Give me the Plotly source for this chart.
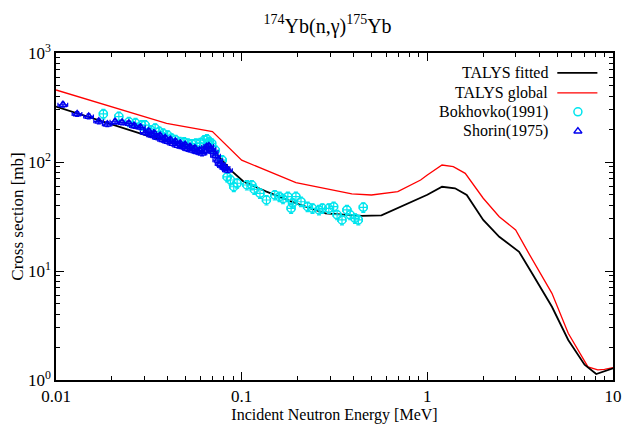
import plotly.graph_objects as go

# --- TALYS calculations (MeV, mb) ---
talys_global_e = [0.01, 0.0178, 0.0394, 0.0696, 0.1, 0.196, 0.283, 0.392, 0.5, 0.693,
                  0.92, 1.0, 1.2, 1.38, 1.6, 2.0, 2.44, 2.99, 3.52, 4.69, 5.74, 7.33, 8.28,
                  9.0, 10.0]
talys_global_xs = [458, 341, 226, 190, 104, 64.6, 57.0, 50.9, 49.8, 53.4,
                   68.4, 76, 93.8, 90.6, 78.7, 46.5, 31.5, 23.8, 14.5, 6.24, 2.68, 1.32, 1.24,
                   1.25, 1.30]

talys_fitted_e = [0.01, 0.02, 0.0315, 0.0419, 0.055, 0.07, 0.087, 0.1025, 0.136, 0.196, 0.283,
                  0.443, 0.566, 0.818, 1.0, 1.2, 1.41, 1.63, 2.0, 2.44, 2.88, 3.12, 3.67, 4.69,
                  5.74, 7.03, 8.12, 10.0]
talys_fitted_xs = [322, 222, 173, 153, 140, 131, 84.6, 65.9, 53.5, 41.8, 33.8,
                   32.0, 32.4, 43.2, 50.0, 59.3, 57.4, 49.8, 29.4, 20.6, 16.7, 15.0, 9.5, 4.70,
                   2.33, 1.38, 1.135, 1.28]

# --- Experimental data: Bokhovko (1991) ---
bokhovko_e = [0.0180, 0.0218, 0.0247, 0.0268, 0.0289, 0.0302, 0.0325, 0.0342, 0.0360, 0.0378,
              0.0400, 0.0419, 0.0440, 0.0463, 0.0490, 0.0513, 0.0540, 0.0567, 0.0600, 0.0629,
              0.0650, 0.0670, 0.0690, 0.0722, 0.0786, 0.0836, 0.0870, 0.0907, 0.0945, 0.1067,
              0.1134, 0.1170, 0.1255, 0.1360, 0.1507, 0.1600, 0.1670, 0.1774, 0.1847, 0.1880,
              0.1960, 0.2087, 0.2265, 0.2407, 0.2610, 0.2720, 0.2947, 0.3130, 0.3266, 0.3470,
              0.3690, 0.3840, 0.4080, 0.4250, 0.4520]
bokhovko_xs = [276, 261, 234, 228, 218, 218, 196, 204, 190, 183,
               176, 165, 160, 153, 152, 148, 146, 148, 150, 159,
               162, 153, 148, 128, 104, 73, 68.4, 59.3, 63.8, 61.5,
               61.5, 56, 51.6, 44.8, 49.8, 48.1, 46, 48.1, 37.6, 42,
               48.1, 43.2, 38.9, 37.6, 36.3, 37.6, 37.6, 38.9, 32.8, 29.4,
               36.3, 32.8, 30.4, 29.4, 38.4]

# --- Experimental data: Shorin (1975) ---
shorin_e = [0.0109, 0.0130, 0.0150, 0.0170, 0.0189, 0.0208, 0.0227, 0.0247, 0.0265, 0.0285,
            0.0303, 0.0316, 0.0328, 0.0340, 0.0352, 0.0364, 0.0376, 0.0388, 0.0400, 0.0413,
            0.0426, 0.0440, 0.0453, 0.0467, 0.0481, 0.0496, 0.0511, 0.0527, 0.0543, 0.0560,
            0.0577, 0.0594, 0.0612, 0.0630, 0.0648, 0.0666, 0.0685, 0.0704, 0.0724, 0.0745,
            0.0767, 0.0790, 0.0815, 0.0840]
shorin_xs = [335, 276, 262, 236, 222, 234, 230, 226, 214, 208,
             186, 192, 176, 182, 168, 174, 160, 166, 154, 160,
             148, 154, 142, 148, 138, 144, 132, 138, 128, 134,
             124, 128, 120, 126, 138, 140, 132, 124, 114, 104,
             96, 92, 88, 84]

x_tick_vals = [0.01, 0.1, 1, 10]
x_tick_text = ["0.01", "0.1", "1", "10"]
y_tick_vals = [1, 10, 100, 1000]
y_tick_text = ["10<sup>0</sup>", "10<sup>1</sup>", "10<sup>2</sup>", "10<sup>3</sup>"]

legend_labels = ["TALYS fitted", "TALYS global", "Bokhovko(1991)", "Shorin(1975)"]

FONT = "Liberation Serif, 'Times New Roman', Times, serif"
CYAN = "#00e5ee"
BLUE = "#0000ee"

fig = go.Figure()

fig.add_trace(go.Scatter(x=talys_global_e, y=talys_global_xs, mode="lines",
                         line=dict(color="#ff0000", width=1.3), showlegend=False))
fig.add_trace(go.Scatter(x=talys_fitted_e, y=talys_fitted_xs, mode="lines",
                         line=dict(color="#000000", width=1.8), showlegend=False))

fig.add_trace(go.Scatter(
    x=bokhovko_e, y=bokhovko_xs, mode="markers",
    marker=dict(symbol="circle-open", size=8, color=CYAN, line=dict(width=1.5, color=CYAN)),
    error_x=dict(type="percent", value=5, color=CYAN, thickness=1.2, width=2),
    error_y=dict(type="percent", value=10, color=CYAN, thickness=1.2, width=2),
    showlegend=False))

fig.add_trace(go.Scatter(
    x=shorin_e, y=shorin_xs, mode="markers",
    marker=dict(symbol="triangle-up-open", size=7, color=BLUE, line=dict(width=1.5, color=BLUE)),
    error_x=dict(type="percent", value=6, color=BLUE, thickness=1.2, width=2),
    error_y=dict(type="percent", value=5, color=BLUE, thickness=1.2, width=2),
    showlegend=False))

# Key in the upper-right corner: labels right-aligned, samples to their right
key_rows = [0.939, 0.878, 0.820, 0.761]
text_x = 0.887
sample_x0, sample_x1 = 0.900, 0.972
sample_mid = 0.937

fig.add_trace(go.Scatter(x=[sample_x0, sample_x1], y=[key_rows[0]] * 2, mode="lines",
                         line=dict(color="#000000", width=1.8), xaxis="x2", yaxis="y2",
                         showlegend=False, hoverinfo="skip"))
fig.add_trace(go.Scatter(x=[sample_x0, sample_x1], y=[key_rows[1]] * 2, mode="lines",
                         line=dict(color="#ff0000", width=1.3), xaxis="x2", yaxis="y2",
                         showlegend=False, hoverinfo="skip"))
fig.add_trace(go.Scatter(x=[sample_mid], y=[key_rows[2]], mode="markers",
                         marker=dict(symbol="circle-open", size=8, color=CYAN,
                                     line=dict(width=1.5, color=CYAN)),
                         xaxis="x2", yaxis="y2", showlegend=False, hoverinfo="skip"))
fig.add_trace(go.Scatter(x=[sample_mid], y=[key_rows[3]], mode="markers",
                         marker=dict(symbol="triangle-up-open", size=7, color=BLUE,
                                     line=dict(width=1.5, color=BLUE)),
                         xaxis="x2", yaxis="y2", showlegend=False, hoverinfo="skip"))

annotations = []
for label, yy in zip(legend_labels, key_rows):
    annotations.append(dict(x=text_x, y=yy, xref="paper", yref="paper", text=label,
                            showarrow=False, xanchor="right", yanchor="middle",
                            font=dict(family=FONT, size=16, color="#000000")))

minor_x = [k * 10 ** n for n in (-2, -1, 0) for k in range(2, 10)]
minor_y = [k * 10 ** n for n in (0, 1, 2) for k in range(2, 10)]

axis_common = dict(showline=True, linecolor="#000000", linewidth=1.5, mirror="allticks",
                   ticks="inside", ticklen=8, tickwidth=1.2, tickcolor="#000000",
                   showgrid=False, zeroline=False,
                   tickfont=dict(family=FONT, size=17, color="#000000"))

fig.update_layout(
    width=630, height=429,
    margin=dict(l=56, r=8, t=53, b=49),
    paper_bgcolor="#ffffff", plot_bgcolor="#ffffff",
    font=dict(family=FONT, color="#000000"),
    title=dict(text="<sup>174</sup>Yb(n,γ)<sup>175</sup>Yb", x=0.52, xanchor="center",
               y=0.94, yanchor="middle", font=dict(family=FONT, size=20, color="#000000")),
    xaxis=dict(type="log", range=[-2, 1], tickvals=x_tick_vals, ticktext=x_tick_text,
               minor=dict(tickvals=minor_x, ticks="inside", ticklen=4, tickwidth=1,
                          tickcolor="#000000"),
               title=dict(text="Incident Neutron Energy [MeV]", standoff=4,
                          font=dict(family=FONT, size=16, color="#000000")),
               **axis_common),
    yaxis=dict(type="log", range=[0, 3], tickvals=y_tick_vals, ticktext=y_tick_text,
               minor=dict(tickvals=minor_y, ticks="inside", ticklen=4, tickwidth=1,
                          tickcolor="#000000"),
               title=dict(text="Cross section [mb]", standoff=0,
                          font=dict(family=FONT, size=17, color="#000000")),
               **axis_common),
    xaxis2=dict(overlaying="x", range=[0, 1], visible=False, fixedrange=True),
    yaxis2=dict(overlaying="y", range=[0, 1], visible=False, fixedrange=True),
    annotations=annotations,
)

fig.write_html("out.html")
